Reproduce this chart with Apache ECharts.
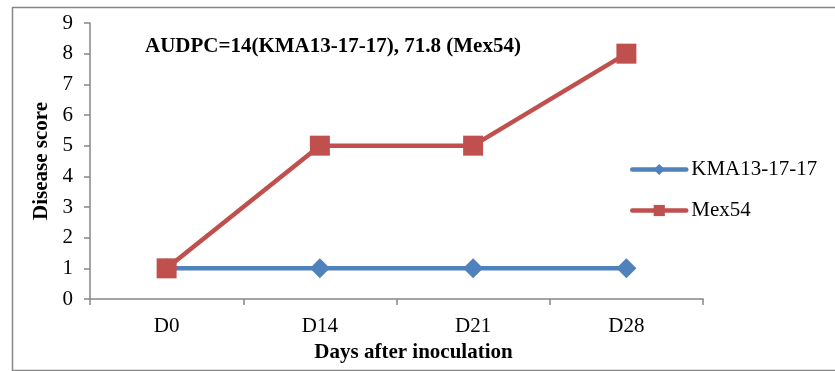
<!DOCTYPE html>
<html>
<head>
<meta charset="utf-8">
<script src="https://cdn.jsdelivr.net/npm/echarts@6/dist/echarts.min.js"></script>
<style>
html,body{margin:0;padding:0;background:#fff;}
#chart{width:835px;height:371px;}
</style>
</head>
<body>
<div id="chart"></div>
<script>
const days = ['D0', 'D14', 'D21', 'D28'];
const kma = [1, 1, 1, 1];
const mex = [1, 5, 5, 8];
const yTicks = [0, 9, 1];
const note = 'AUDPC=14(KMA13-17-17), 71.8 (Mex54)';

const font = '"Liberation Serif", "Times New Roman", serif';
const axisGray = '#868686';
const fs = 21;

const chart = echarts.init(document.getElementById('chart'));
chart.setOption({
  animation: false,
  textStyle: { fontFamily: font },
  graphic: [
    { type: 'rect', left: 10, top: 5, shape: { width: 840, height: 363 },
      style: { fill: 'none', stroke: axisGray, lineWidth: 1.5 } },
    { type: 'text', left: 145, top: 36,
      style: { text: note, font: 'bold ' + fs + 'px ' + font, fill: '#000' } }
  ],
  grid: { left: 90, right: 132, top: 23, bottom: 72, containLabel: false, outerBoundsMode: 'none' },
  legend: {
    orient: 'vertical', left: 625, top: 154, itemGap: 20,
    itemWidth: 54, itemHeight: 14,
    lineStyle: { width: 4.5, cap: 'round' },
    textStyle: { fontFamily: font, fontSize: fs, color: '#000' },
    data: ['KMA13-17-17', 'Mex54']
  },
  xAxis: {
    type: 'category', data: days, boundaryGap: true,
    axisLine: { lineStyle: { color: axisGray, width: 1.5 } },
    axisTick: { show: true, length: 6, lineStyle: { color: axisGray, width: 1.5 } },
    axisLabel: { color: '#000', fontSize: fs, fontFamily: font, margin: 17 },
    name: 'Days after inoculation', nameLocation: 'middle', nameGap: 42,
    nameTextStyle: { fontWeight: 'bold', fontSize: fs, fontFamily: font, color: '#000',
      padding: [0, 0, 0, 34] }
  },
  yAxis: {
    type: 'value', min: yTicks[0], max: yTicks[1], interval: yTicks[2],
    splitLine: { show: false },
    axisLine: { show: true, lineStyle: { color: axisGray, width: 1.5 } },
    axisTick: { show: true, length: 6, lineStyle: { color: axisGray, width: 1.5 } },
    axisLabel: { color: '#000', fontSize: fs, fontFamily: font, margin: 17 },
    name: 'Disease score', nameLocation: 'middle', nameGap: 38, nameRotate: 90,
    nameTextStyle: { fontWeight: 'bold', fontSize: fs, fontFamily: font, color: '#000' }
  },
  series: [
    { name: 'KMA13-17-17', type: 'line', data: kma, symbol: 'diamond', symbolSize: 20,
      lineStyle: { color: '#4F81BD', width: 4.5 }, itemStyle: { color: '#4F81BD' } },
    { name: 'Mex54', type: 'line', data: mex, symbol: 'rect', symbolSize: 20,
      lineStyle: { color: '#C0504D', width: 4.5 }, itemStyle: { color: '#C0504D' } }
  ]
});
</script>
</body>
</html>
